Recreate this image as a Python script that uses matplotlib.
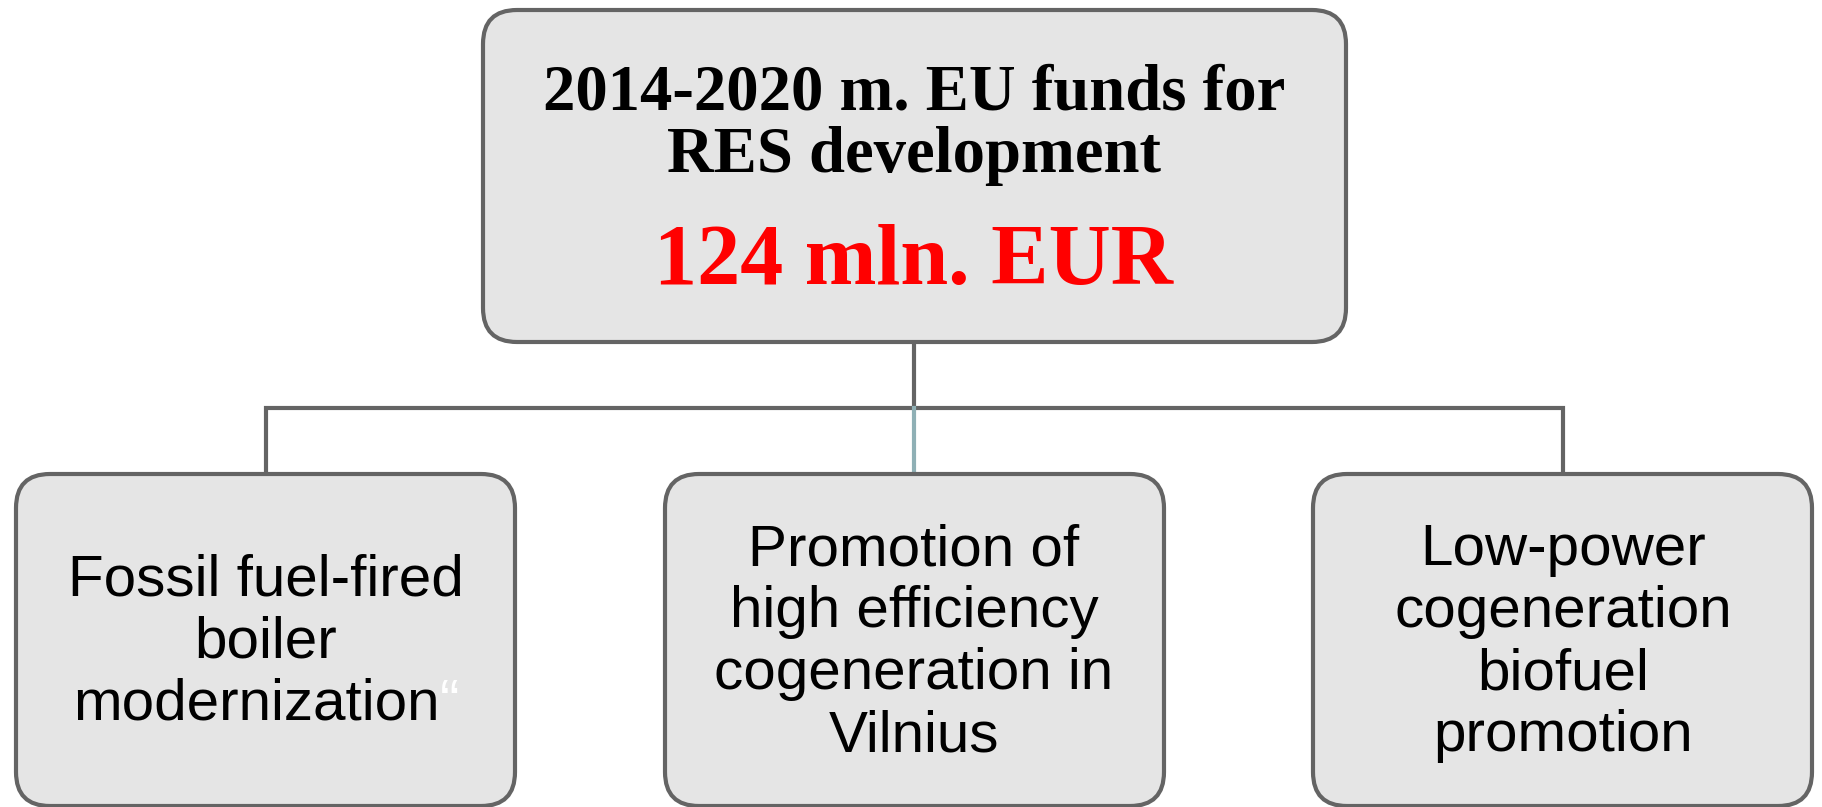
import matplotlib.pyplot as plt
from matplotlib.patches import FancyBboxPatch
from matplotlib import font_manager

# Texts of the diagram
top_lines = ['2014-2020 m. EU funds for', 'RES development']
top_amount = '124 mln. EUR'
child_labels = [
    ['Fossil fuel-fired', 'boiler', 'modernization'],
    ['Promotion of', 'high efficiency', 'cogeneration in', 'Vilnius'],
    ['Low-power', 'cogeneration', 'biofuel', 'promotion'],
]

W, H = 1822, 807
fig = plt.figure(figsize=(W / 100, H / 100), dpi=100)
ax = fig.add_axes([0, 0, 1, 1])
ax.set_xlim(0, W)
ax.set_ylim(H, 0)
ax.axis('off')

names = {f.name for f in font_manager.fontManager.ttflist}
sans = 'Liberation Sans Narrow' if 'Liberation Sans Narrow' in names else 'Liberation Sans'
sans_size = 49 if sans == 'Liberation Sans Narrow' else 42

edge = '#646464'
fill = '#e5e5e5'
lw = 3


def box(x0, y0, x1, y1):
    p = FancyBboxPatch((x0, y0), x1 - x0, y1 - y0,
                       boxstyle='round,pad=0,rounding_size=34',
                       fc=fill, ec=edge, lw=lw, zorder=2)
    ax.add_patch(p)


# top box
box(483, 10, 1346, 342)
for i, line in enumerate(top_lines):
    ax.text(914, 110 + i * 62, line, ha='center', va='baseline',
            family='Liberation Serif', weight='bold', fontsize=46.5, zorder=3)
ax.text(914, 284, top_amount, ha='center', va='baseline', color='#ff0000',
        family='Liberation Serif', weight='bold', fontsize=62, zorder=3)

# connectors
centers = [266, 914, 1563]
ax.plot([914, 914], [342, 408], color=edge, lw=lw, zorder=1)
ax.plot([centers[0], centers[0], centers[2], centers[2]], [474, 408, 408, 474],
        color=edge, lw=lw, zorder=1, solid_joinstyle='miter')
ax.plot([914, 914], [408, 474], color='#8fb0b5', lw=lw, zorder=1)

fig.canvas.draw()
r = fig.canvas.get_renderer()


def text_width(s):
    t = ax.text(0, 0, s, family=sans, fontsize=sans_size)
    w = t.get_window_extent(r).width
    t.remove()
    return w


# child boxes
lefts = [16, 665, 1313]
step = 62
for k, (x0, cx, lines) in enumerate(zip(lefts, centers, child_labels)):
    box(x0, 474, x0 + 499, 806)
    n = len(lines)
    for i, line in enumerate(lines):
        yb = 658 + (i - (n - 1) / 2) * step
        if k == 0 and i == n - 1:
            # last line carries a white closing quote
            wf = text_width(line + '\u201c')
            ax.text(cx - wf / 2, yb, line, ha='left', va='baseline',
                    family=sans, fontsize=sans_size, zorder=3)
            ax.text(cx + wf / 2, yb, '\u201c', ha='right', va='baseline',
                    family=sans, fontsize=sans_size, color='white', zorder=3)
        else:
            ax.text(cx, yb, line, ha='center', va='baseline',
                    family=sans, fontsize=sans_size, zorder=3)

fig.savefig('out.png', dpi=100)
